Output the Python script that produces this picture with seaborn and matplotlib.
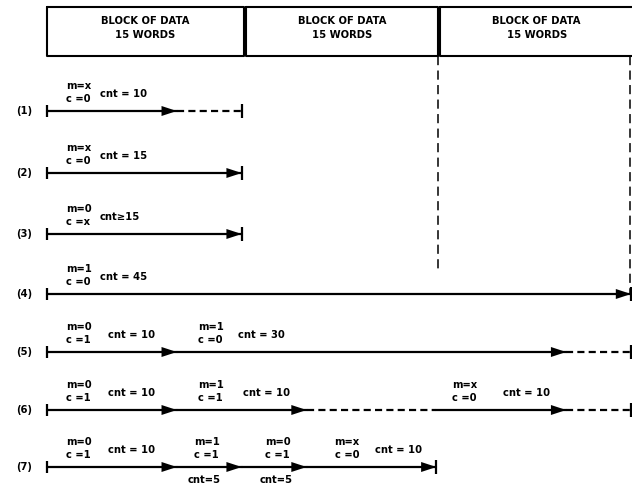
import numpy as np
import pandas as pd
import matplotlib
matplotlib.use("Agg")
import matplotlib.pyplot as plt
import seaborn as sns

# ---------------- data ----------------
row_labels = ["(1)", "(2)", "(3)", "(4)", "(5)", "(6)", "(7)"]
block_labels = ["BLOCK OF DATA\n15 WORDS"] * 3
block_words = [15, 15, 15]

# word counts of each segment on each row
seg_counts = [
    [10, 5],
    [15],
    [15],
    [45],
    [10, 30, 5],
    [10, 10, 10, 10, 5],
    [10, 5, 5, 10],
]
# line kind of each segment
seg_kinds = [
    ["solid", "dashed"],
    ["solid"],
    ["solid"],
    ["solid"],
    ["solid", "solid", "dashed"],
    ["solid", "solid", "dashed", "solid", "dashed"],
    ["solid", "solid", "solid", "solid"],
]
# arrowhead at end of segment?
seg_arrow = [
    [True, False],
    [True],
    [True],
    [True],
    [True, True, False],
    [True, True, False, True, False],
    [True, True, True, True],
]
# annotations: (segment index, m, c, cnt text)
seg_notes = [
    [(0, "x", "0", "cnt = 10")],
    [(0, "x", "0", "cnt = 15")],
    [(0, "0", "x", "cnt≥15")],
    [(0, "1", "0", "cnt = 45")],
    [(0, "0", "1", "cnt = 10"), (1, "1", "0", "cnt = 30")],
    [(0, "0", "1", "cnt = 10"), (1, "1", "1", "cnt = 10"), (3, "x", "0", "cnt = 10")],
    [(0, "0", "1", "cnt = 10"), (1, "1", "1", "cnt=5"), (2, "0", "1", "cnt=5"),
     (3, "x", "0", "cnt = 10")],
]

# ---------------- layout ----------------
PX = 12.98          # pixels per word
X0 = 47             # pixel of word 0
W, H = 632, 487
row_y = [111, 173, 234, 294, 352, 410, 467]   # pixel rows
# per-note offsets in px: (m/c offset, cnt offset, cnt below?)
note_layout = [
    [(19, 53, False)],
    [(19, 53, False)],
    [(19, 53, False)],
    [(19, 53, False)],
    [(19, 61, False), (21, 61, False)],
    [(19, 61, False), (21, 66, False), (16, 67, False)],
    [(19, 61, False), (17, 11, True), (23, 18, True), (28, 68, False)],
]

sns.set_theme(style="white")
plt.rcParams["font.family"] = ["DejaVu Sans"]

fig = plt.figure(figsize=(W / 100, H / 100), dpi=100)
ax = fig.add_axes([0, 0, 1, 1])

px = 1 / PX
LW = 1.6
FS = 7.2

# segments table
recs = []
sid = 0
for r, (counts, kinds) in enumerate(zip(seg_counts, seg_kinds)):
    edges = np.concatenate([[0], np.cumsum(counts)])
    for i, k in enumerate(kinds):
        for xv in (edges[i], edges[i + 1]):
            recs.append(dict(seg=sid, x=xv, y=row_y[r], kind=k))
        sid += 1
df = pd.DataFrame(recs)

sns.lineplot(data=df, x="x", y="y", units="seg", estimator=None, style="kind",
             dashes={"solid": "", "dashed": (3.2, 1.9)}, color="black",
             lw=LW, legend=False, sort=False, ax=ax)
ax.set_xlim(-X0 / PX, (W - X0) / PX)
ax.set_ylim(H, 0)
ax.axis("off")

tfont = dict(fontsize=FS, fontweight="bold", color="black")

for r, counts in enumerate(seg_counts):
    y = row_y[r]
    edges = np.concatenate([[0], np.cumsum(counts)])
    # start / end ticks
    ax.plot([0, 0], [y - 6, y + 6], color="black", lw=LW, solid_capstyle="butt")
    ax.plot([edges[-1]] * 2, [y - 7, y + 7], color="black", lw=LW,
            solid_capstyle="butt")
    for i, has in enumerate(seg_arrow[r]):
        if has:
            xe = edges[i + 1]
            ax.annotate("", xy=(xe, y), xytext=(xe - 1.5, y),
                        arrowprops=dict(arrowstyle="-|>,head_length=1.1,head_width=0.36",
                                        color="black", lw=0, mutation_scale=10,
                                        shrinkA=0, shrinkB=0))
    # row label
    ax.text(-23 * px, y, row_labels[r], ha="center", va="center", **tfont)
    # notes
    for (si, m, c, cnt), (mo, co, below) in zip(seg_notes[r], note_layout[r]):
        xs = edges[si]
        ax.text(xs + mo * px, y - 25, f"m={m}", ha="left", va="center", **tfont)
        ax.text(xs + mo * px, y - 12, f"c ={c}", ha="left", va="center", **tfont)
        ax.text(xs + co * px, y + (13 if below else -17), cnt, ha="left",
                va="center", **tfont)

# blocks of data
bstart = np.concatenate([[0], np.cumsum(block_words)])
for i, lab in enumerate(block_labels):
    left = bstart[i] + (0.3 if i > 0 else 0)
    right = bstart[i + 1] + 0.15
    ax.plot([left, right, right, left, left], [7, 7, 56, 56, 7],
            color="black", lw=1.5)
    ax.text((left + right) / 2, 28, lab, ha="center", va="center",
            linespacing=1.5, **tfont)

# dashed guide lines below block boundaries
guide_x = [bstart[2] + 0.1, bstart[3] - 0.05]
guide_end = [270, row_y[3]]
for gx, ge in zip(guide_x, guide_end):
    ax.plot([gx, gx], [56, ge], color="black", lw=1.1, dashes=(6, 3.5))

fig.savefig("out.png", dpi=100, facecolor="white")
